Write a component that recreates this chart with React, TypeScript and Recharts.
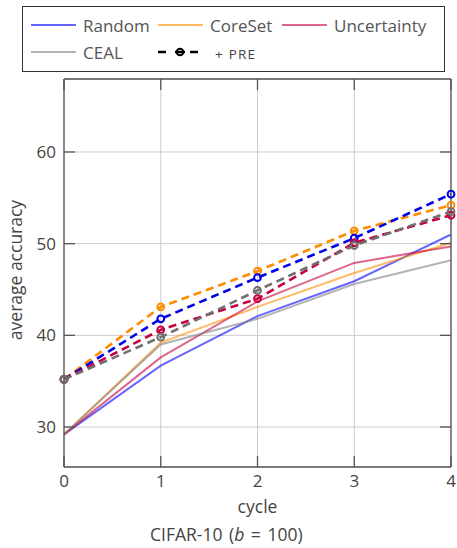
import React from "react";
import {
  LineChart, Line, XAxis, YAxis, CartesianGrid, Legend,
} from "recharts";

const cycles = [0, 1, 2, 3, 4];
const random = [29.2, 36.7, 42.1, 45.9, 51.0];
const coreset = [29.2, 39.2, 43.1, 46.8, 50.1];
const uncertainty = [29.2, 37.6, 43.7, 47.9, 49.7];
const ceal = [29.2, 39.0, 41.8, 45.6, 48.2];
const randomPre = [35.2, 41.8, 46.3, 50.6, 55.4];
const coresetPre = [35.2, 43.1, 47.0, 51.4, 54.2];
const uncertaintyPre = [35.2, 40.6, 44.0, 50.1, 53.1];
const cealPre = [35.2, 39.8, 44.9, 49.8, 53.5];
const yTicks = [30, 40, 50, 60];

const data = cycles.map((c, i) => ({
  cycle: c,
  random: random[i],
  coreset: coreset[i],
  uncertainty: uncertainty[i],
  ceal: ceal[i],
  randomPre: randomPre[i],
  coresetPre: coresetPre[i],
  uncertaintyPre: uncertaintyPre[i],
  cealPre: cealPre[i],
}));

const FONT = "'Open Sans', sans-serif";
const TEXT = "#444";
const AXIS = "#555";
const Y_DOMAIN: [number, number] = [25.64, 67.96];

const solid = [
  { key: "random", color: "#0000ff", label: "Random" },
  { key: "coreset", color: "#ff8c00", label: "CoreSet" },
  { key: "uncertainty", color: "#c8003c", label: "Uncertainty" },
  { key: "ceal", color: "#808080", label: "CEAL" },
];

const dashed = [
  { key: "coresetPre", color: "#ff8c00" },
  { key: "randomPre", color: "#0000e6" },
  { key: "uncertaintyPre", color: "#c8003c" },
  { key: "cealPre", color: "#707070" },
];

function LegendBox() {
  const item = (left: number, top: number, swatch: React.ReactNode, text: React.ReactNode) => (
    <div style={{ position: "absolute", left, top, display: "flex", alignItems: "center", height: 20 }}>
      {swatch}
      <span style={{ marginLeft: 7 }}>{text}</span>
    </div>
  );
  const lineSw = (color: string) => (
    <svg width={45} height={10}>
      <line x1={0} y1={5} x2={45} y2={5} stroke={color} strokeOpacity={0.6} strokeWidth={2} />
    </svg>
  );
  const preSw = (
    <svg width={45} height={10}>
      <line x1={0} y1={5} x2={8} y2={5} stroke="#000" strokeWidth={2.5} />
      <line x1={17} y1={5} x2={27} y2={5} stroke="#000" strokeWidth={2.5} />
      <circle cx={22} cy={5} r={3.3} fill="none" stroke="#000" strokeWidth={2} />
      <line x1={32} y1={5} x2={40} y2={5} stroke="#000" strokeWidth={2.5} />
    </svg>
  );
  return (
    <div style={{
      position: "relative", width: 423, height: 66, boxSizing: "border-box",
      border: "1.3px solid #333", background: "#fff", fontFamily: FONT,
      fontSize: 17, color: "#555",
    }}>
      {item(8, 8, lineSw(solid[0].color), solid[0].label)}
      {item(135, 8, lineSw(solid[1].color), solid[1].label)}
      {item(259, 8, lineSw(solid[2].color), solid[2].label)}
      {item(8, 35, lineSw(solid[3].color), solid[3].label)}
      {item(135, 35, preSw,
        <span style={{ fontSize: 13.5, letterSpacing: 1.2, marginLeft: 5, color: "#444" }}>+ PRE</span>)}
    </div>
  );
}

export default function App() {
  return (
    <div style={{ position: "absolute", left: 0, top: 0, width: 457, height: 548, background: "#fff", fontFamily: FONT }}>
      <LineChart
        width={457}
        height={548}
        data={data}
        margin={{ top: 78, right: 5, bottom: 41, left: 0 }}
      >
        <CartesianGrid stroke="#cccccc" strokeWidth={1} />
        <XAxis
          dataKey="cycle" type="number" domain={[0, 4]} ticks={cycles}
          height={40} stroke={AXIS} strokeWidth={1.3}
          tickSize={-11} tickMargin={19}
          tick={{ fill: TEXT, fontSize: 17, fontFamily: FONT }}
          label={{ value: "cycle", position: "bottom", offset: -6, fill: TEXT, fontSize: 17.5, fontFamily: FONT }}
        />
        <XAxis
          xAxisId="t" orientation="top" dataKey="cycle" type="number" domain={[0, 4]} ticks={cycles}
          height={1} stroke={AXIS} strokeWidth={1.3} tickSize={-11} tick={() => <g />}
        />
        <YAxis
          type="number" domain={Y_DOMAIN} ticks={yTicks} allowDataOverflow
          width={64} stroke={AXIS} strokeWidth={1.3}
          tickSize={-11} tickMargin={19}
          tick={{ fill: TEXT, fontSize: 17, fontFamily: FONT }}
        />
        <YAxis
          yAxisId="r" orientation="right" type="number" domain={Y_DOMAIN} ticks={yTicks} allowDataOverflow
          width={1} stroke={AXIS} strokeWidth={1.3} tickSize={-11} tick={() => <g />}
        />
        {solid.map(s => (
          <Line
            key={s.key} type="linear" dataKey={s.key} stroke={s.color} strokeOpacity={0.6}
            strokeWidth={2} dot={false} activeDot={false} isAnimationActive={false}
          />
        ))}
        {dashed.map(s => (
          <Line
            key={s.key} type="linear" dataKey={s.key} stroke={s.color}
            strokeWidth={2.6} strokeDasharray="8 5"
            dot={{ r: 3.4, stroke: s.color, strokeWidth: 2, fill: "none", strokeDasharray: "" }}
            activeDot={false} isAnimationActive={false}
          />
        ))}
        <Legend
          layout="horizontal" verticalAlign="middle" align="center"
          content={() => <LegendBox />}
          wrapperStyle={{ position: "absolute", left: 22, top: 6, width: 423, height: 66 }}
        />
      </LineChart>
      <div style={{
        position: "absolute", left: 15, top: 270, transform: "translate(-50%, -50%) rotate(-90deg)",
        whiteSpace: "nowrap", fontSize: 17.5, color: TEXT,
      }}>
        average accuracy
      </div>
      <div style={{
        position: "absolute", left: 150, top: 524, fontSize: 17.5, lineHeight: "20px",
        color: TEXT, whiteSpace: "nowrap", wordSpacing: 2,
      }}>
        CIFAR-10 (<i>b</i> = 100)
      </div>
    </div>
  );
}
